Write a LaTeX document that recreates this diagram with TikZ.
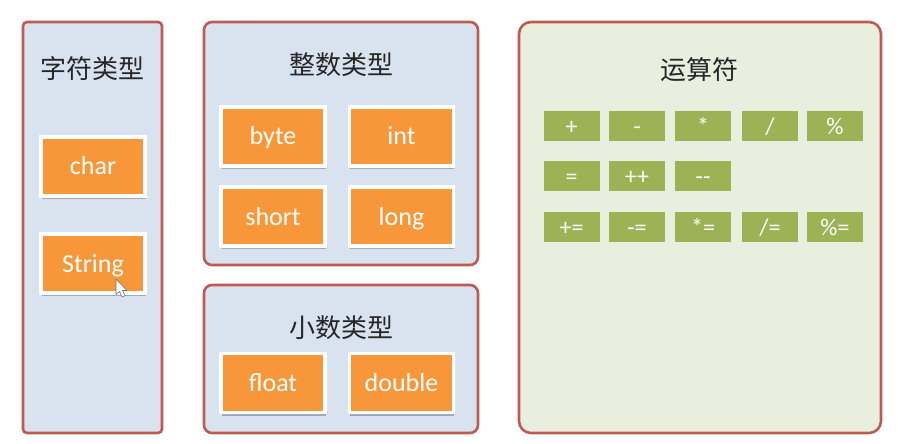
\documentclass[tikz,border=0pt]{standalone}
\usepackage{fontspec}
\usepackage{xcolor}
\setmainfont{Carlito}
\newfontfamily\cjk{Noto Sans CJK SC}
\usetikzlibrary{shadows}
\definecolor{panelred}{HTML}{BF5A53}
\definecolor{panelblue}{HTML}{D9E3F0}
\definecolor{panelgreen}{HTML}{E8EFDE}
\definecolor{typeorange}{HTML}{F79739}
\definecolor{opgreen}{HTML}{9BB355}

\tikzset{
    panel/.style={draw=panelred,line width=2.6pt,rounded corners=8pt},
    title/.style={font=\cjk\fontsize{26}{26}\selectfont,text=black!85},
    typebox/.style={draw=white,line width=3.6pt,fill=typeorange,text=white,
        minimum width=104pt,minimum height=59pt,inner sep=0pt,
        text height=17pt,text depth=0pt,
        font=\fontsize{26}{26}\selectfont,
        drop shadow={shadow xshift=0.5pt,shadow yshift=-3.2pt,opacity=.25,fill=black}},
    opbox/.style={fill=opgreen,text=white,
        minimum width=56pt,minimum height=30pt,inner sep=0pt,
        text height=17pt,text depth=0pt,
        font=\fontsize{24}{24}\selectfont},
}

\begin{document}
\begin{tikzpicture}[x=1pt,y=-1pt]
    \useasboundingbox[fill=white] (0,0) rectangle (898,444);
    % panels
    \node[panel,rounded corners=4pt,fill=panelblue,minimum width=139pt,minimum height=411pt] (charpanel) at (92.5,227.5) {};
    \node[panel,fill=panelblue,minimum width=274pt,minimum height=243pt] (intpanel) at (341,143.5) {};
    \node[panel,fill=panelblue,minimum width=274pt,minimum height=148pt] (floatpanel) at (341,359) {};
    \node[panel,rounded corners=12pt,fill=panelgreen,minimum width=362pt,minimum height=411pt] (oppanel) at (700,227.5) {};
    % titles
    \node[title] (chartitle) at (93,69) {字符类型};
    \node[title] (inttitle) at (341,65) {整数类型};
    \node[title] (floattitle) at (341,328) {小数类型};
    \node[title] (optitle) at (699,70) {运算符};
    % orange boxes
    \node[typebox] (char) at (93,166.5) {char};
    \node[typebox] (string) at (93,263.5) {String};
    \node[typebox] (byte) at (273,136.5) {byte};
    \node[typebox] (int) at (401.5,136.5) {int};
    \node[typebox] (short) at (273,216.5) {short};
    \node[typebox] (long) at (401.5,216.5) {long};
    \node[typebox] (float) at (273,383) {float};
    \node[typebox] (double) at (401.5,383) {double};
    % green boxes
    \foreach \x/\name/\txt in {571.5/a/+,637/b/-,703/c/*,770/d/{/},835/e/\%}
        \node[opbox] (op1\name) at (\x,126) {\txt};
    \foreach \x/\name/\txt in {571.5/a/=,637/b/++,703/c/{-}{-}}
        \node[opbox] (op2\name) at (\x,176) {\txt};
    \foreach \x/\name/\txt in {571.5/a/+=,637/b/-=,703/c/*=,770/d/{/=},835/e/\%=}
        \node[opbox] (op3\name) at (\x,226.5) {\txt};
    % mouse pointer
    \draw[fill=white,draw=black!55,line width=.6pt,line join=round]
        (116,279) -- (116,294.5) -- (119.5,291.5) -- (122,297) -- (125,295.8)
        -- (122.5,290.5) -- (127,290.5) -- cycle;
\end{tikzpicture}
\end{document}
